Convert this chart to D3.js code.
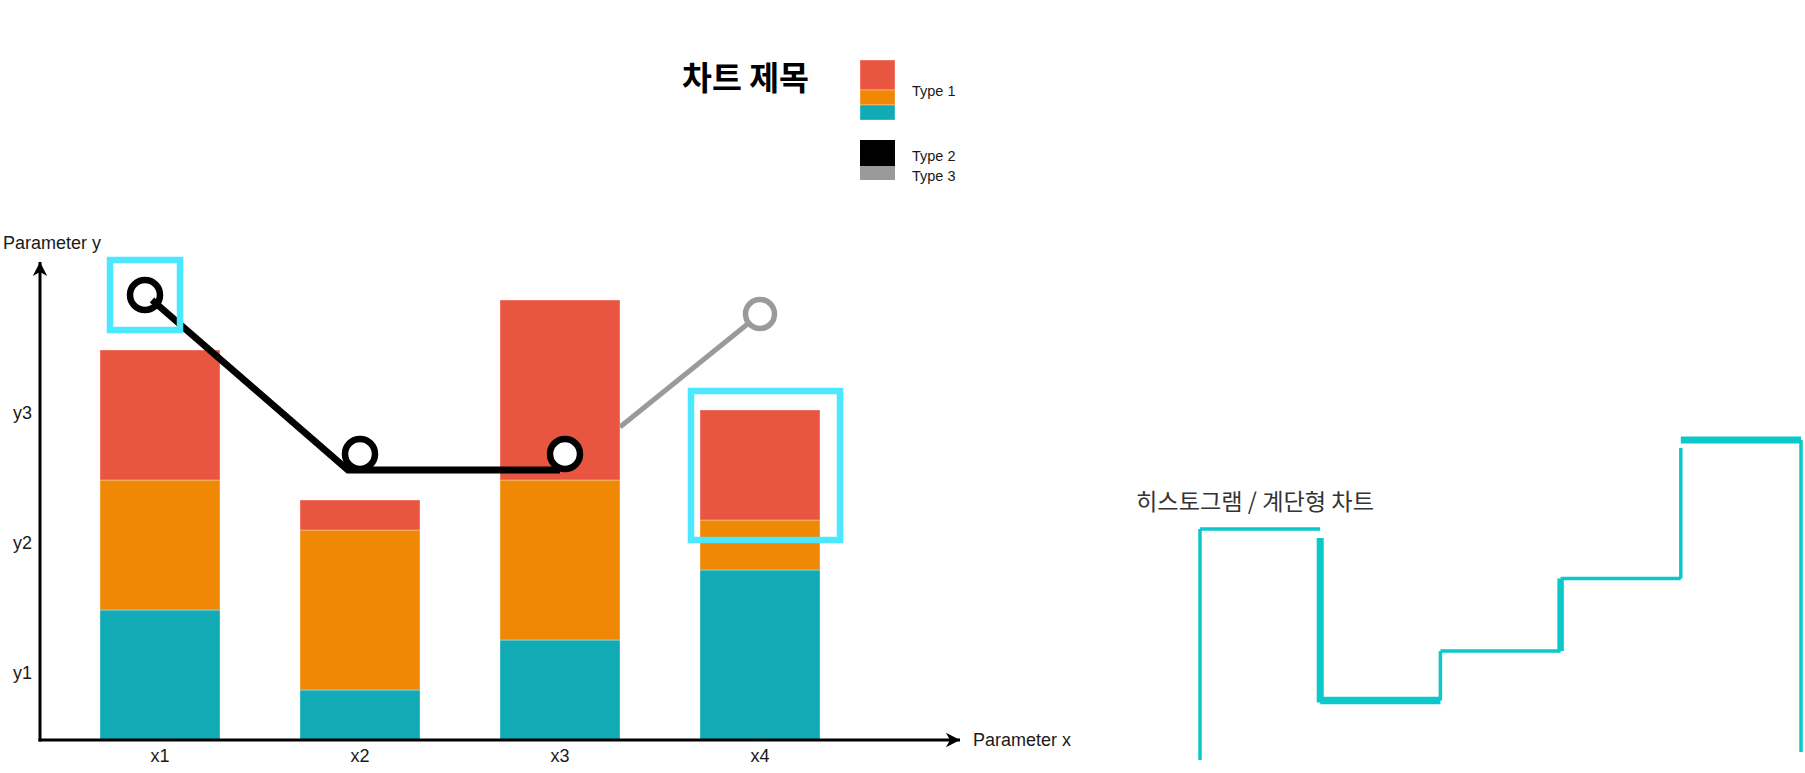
<!DOCTYPE html>
<html>
<head>
<meta charset="utf-8">
<script src="https://cdn.jsdelivr.net/npm/d3@7"></script>
<style>
  html, body { margin: 0; padding: 0; background: #ffffff; }
  svg { display: block; }
  .lat { font-family: "Liberation Sans", Arial, Helvetica, sans-serif; }
  .kor { font-family: "Noto Sans CJK KR", "Noto Sans", sans-serif; }
</style>
</head>
<body>
<svg id="chart" width="1805" height="773"></svg>
<script>
// ---------------- DATA ----------------
const categories = ["x1", "x2", "x3", "x4"];
const bottomValues = [26, 10, 20, 34];   // teal segment of Type 1
const middleValues = [26, 32, 32, 10];   // orange segment of Type 1
const topValues = [26, 6, 36, 22];       // red segment of Type 1
const yTickValues = [13.4, 39.4, 65.4];
const yTickLabels = ["y1", "y2", "y3"];
const type2Categories = ["x1", "x2", "x3"];
const type2Values = [89, 57.2, 57.2];
const type3Categories = ["x3", "x4"];
const type3Values = [62.6, 85.2];
const legendLabels = ["Type 1", "Type 2", "Type 3"];
const histBins = [0, 1, 2, 3, 4];
const histValues = [70, 18, 33, 55, 97];
const chartTitle = "차트 제목";
const histTitle = "히스토그램 / 계단형 차트";
const xAxisTitle = "Parameter x";
const yAxisTitle = "Parameter y";

// ---------------- STYLE ----------------
const C = {
  red: "#E85642", orange: "#F08705", teal: "#12AAB5",
  black: "#000000", gray: "#9A9A9A", cyan: "#4DE8FF", step: "#0BC9CB",
  text: "#1a1a1a"
};

const svg = d3.select("#chart");

// scales
const x = d3.scaleBand().domain(categories).range([60, 860]).paddingInner(0.4).paddingOuter(0.2);
const y = d3.scaleLinear().domain([0, 100]).range([740, 240]);

// defs: draw.io style classic arrows
const defs = svg.append("defs");
defs.append("marker")
  .attr("id", "arrow")
  .attr("viewBox", "0 0 16 16")
  .attr("refX", 14).attr("refY", 8)
  .attr("markerWidth", 16).attr("markerHeight", 16)
  .attr("markerUnits", "userSpaceOnUse")
  .attr("orient", "auto")
  .append("path")
  .attr("d", "M14,8 L0,0.8 L4,8 L0,15.2 Z")
  .attr("fill", "#000");

// ---------------- STACKED BARS ----------------
const table = categories.map((c, i) => ({ cat: c, a: bottomValues[i], b: middleValues[i], c: topValues[i] }));
const stack = d3.stack().keys(["a", "b", "c"]);
const layers = stack(table);
const layerColors = { a: C.teal, b: C.orange, c: C.red };

svg.append("g").selectAll("g")
  .data(layers).join("g")
  .attr("fill", d => layerColors[d.key])
  .selectAll("rect")
  .data(d => d).join("rect")
  .attr("x", d => x(d.data.cat))
  .attr("width", x.bandwidth())
  .attr("y", d => y(d[1]))
  .attr("height", d => y(d[0]) - y(d[1]))
  .attr("stroke", "rgba(255,255,255,0.35)")
  .attr("stroke-width", 1);

// ---------------- AXES ----------------
const yAxis = d3.axisLeft(y).tickValues(yTickValues)
  .tickFormat((d, i) => yTickLabels[i]).tickSize(0).tickPadding(8);
const gy = svg.append("g").attr("transform", `translate(${x.range()[0] - 20},0)`).call(yAxis);
gy.select(".domain").remove();
gy.selectAll("text").attr("class", "lat").attr("font-size", 18).attr("fill", C.text);

const xAxis = d3.axisBottom(x).tickSize(0).tickPadding(9);
const gx = svg.append("g").attr("transform", `translate(0,${y(0)})`).call(xAxis);
gx.select(".domain").remove();
gx.selectAll("text").attr("class", "lat").attr("font-size", 18).attr("fill", C.text);

const axisX0 = x.range()[0] - 20;
svg.append("line")
  .attr("x1", axisX0).attr("y1", y(0) + 1.5)
  .attr("x2", axisX0).attr("y2", y(95.6))
  .attr("stroke", "#000").attr("stroke-width", 3)
  .attr("marker-end", "url(#arrow)");
svg.append("line")
  .attr("x1", axisX0 - 1.5).attr("y1", y(0))
  .attr("x2", x.range()[1] + 100).attr("y2", y(0))
  .attr("stroke", "#000").attr("stroke-width", 3)
  .attr("marker-end", "url(#arrow)");

svg.append("text").attr("class", "lat")
  .attr("x", 3).attr("y", 243).attr("dy", "0.35em")
  .attr("font-size", 18).attr("fill", C.text).text(yAxisTitle);
svg.append("text").attr("class", "lat")
  .attr("x", x.range()[1] + 113).attr("y", y(0)).attr("dy", "0.35em")
  .attr("font-size", 18).attr("fill", C.text).text(xAxisTitle);

// ---------------- TYPE 3 (gray line) ----------------
const t3pts = type3Categories.map((c, i) => ({
  px: i === 0 ? x(c) + x.bandwidth() : x(c) + x.bandwidth() / 2,
  py: y(type3Values[i])
}));
svg.append("path")
  .attr("d", d3.line().x(d => d.px).y(d => d.py)(t3pts))
  .attr("fill", "none").attr("stroke", C.gray).attr("stroke-width", 5);
svg.append("circle")
  .attr("cx", t3pts[1].px).attr("cy", t3pts[1].py).attr("r", 14.5)
  .attr("fill", "#fff").attr("stroke", C.gray).attr("stroke-width", 5.5);

// ---------------- TYPE 2 (black line) ----------------
const circleDx = [-15, 0, 5];
const lineOffsets = [[7, 5], [-12, 16], [-5, 16]];
const t2pts = type2Categories.map((c, i) => ({
  cx: x(c) + x.bandwidth() / 2 + circleDx[i],
  cy: y(type2Values[i])
}));
svg.append("g").selectAll("circle")
  .data(t2pts).join("circle")
  .attr("cx", d => d.cx).attr("cy", d => d.cy).attr("r", 15)
  .attr("fill", "#fff").attr("stroke", C.black).attr("stroke-width", 6.5);
svg.append("path")
  .attr("d", d3.line().x((d, i) => d.cx + lineOffsets[i][0]).y((d, i) => d.cy + lineOffsets[i][1])(t2pts))
  .attr("fill", "none").attr("stroke", C.black).attr("stroke-width", 6.8)
  .attr("stroke-linejoin", "miter");

// ---------------- HIGHLIGHT BOXES ----------------
const box1 = { x: t2pts[0].cx - 35, y: t2pts[0].cy - 35, w: 70, h: 70 };
const l4 = layers[2][3];
const box2 = {
  x: x("x4") - 9, y: y(l4[1]) - 19,
  w: x.bandwidth() + 29, h: (y(l4[0]) - y(l4[1])) + 39
};
svg.append("g").selectAll("rect")
  .data([box1, box2]).join("rect")
  .attr("x", d => d.x).attr("y", d => d.y).attr("width", d => d.w).attr("height", d => d.h)
  .attr("fill", "none").attr("stroke", C.cyan).attr("stroke-width", 6.5);

// ---------------- TITLE ----------------
svg.append("text").attr("class", "kor")
  .attr("x", 745.5).attr("y", 75).attr("dominant-baseline", "central")
  .attr("text-anchor", "middle").attr("font-size", 32.5).attr("font-weight", "bold")
  .attr("fill", "#000").text(chartTitle);

// ---------------- LEGEND ----------------
const lg = svg.append("g").attr("transform", "translate(860,60)");
const sw = 35;
const legendType1 = [
  { color: C.red, h: 30 }, { color: C.orange, h: 15 }, { color: C.teal, h: 15 }
];
let acc = 0;
legendType1.forEach(s => {
  lg.append("rect").attr("x", 0).attr("y", acc).attr("width", sw).attr("height", s.h)
    .attr("fill", s.color).attr("stroke", "rgba(255,255,255,0.35)").attr("stroke-width", 1);
  acc += s.h;
});
lg.append("rect").attr("x", 0).attr("y", 80).attr("width", sw).attr("height", 26).attr("fill", C.black);
lg.append("rect").attr("x", 0).attr("y", 106).attr("width", sw).attr("height", 14).attr("fill", C.gray);
const legendY = [31, 96, 116];
lg.selectAll("text.lt").data(legendLabels).join("text")
  .attr("class", "lat lt")
  .attr("x", 52).attr("y", (d, i) => legendY[i]).attr("dy", "0.35em")
  .attr("font-size", 14.5).attr("fill", C.text).text(d => d);

// ---------------- HISTOGRAM / STEP CHART ----------------
const hx = d3.scaleLinear().domain([0, 5]).range([1200, 1801]);
const hy = d3.scaleLinear().domain([0, 100]).range([760, 430]);
const riserWidths = [3.5, 7, 3.5, 6.5, 3.5];
const topWidths = [3.5, 7.5, 3.5, 3.5, 7];
const riserGaps = [0, 9, 0, 0, 8];   // small gap left at the upper end of a riser
const hg = svg.append("g").attr("stroke", C.step).attr("fill", "none");
histBins.forEach((b, i) => {
  const prev = i === 0 ? 0 : histValues[i - 1];
  const vy = hy(histValues[i]);
  const py = hy(prev);
  const upper = Math.min(py, vy) + riserGaps[i];
  const lower = Math.max(py, vy) + (i === 1 ? 2 : 0);
  hg.append("line")
    .attr("x1", hx(b)).attr("x2", hx(b))
    .attr("y1", lower).attr("y2", upper)
    .attr("stroke-width", riserWidths[i]);
  hg.append("line")
    .attr("x1", hx(b)).attr("x2", hx(b + 1))
    .attr("y1", vy).attr("y2", vy)
    .attr("stroke-width", topWidths[i]);
});
hg.append("line")
  .attr("x1", hx(5)).attr("x2", hx(5))
  .attr("y1", hy(histValues[4])).attr("y2", hy(0) - 8)
  .attr("stroke-width", 3.5);

svg.append("text").attr("class", "kor")
  .attr("x", 1136).attr("y", 500).attr("dominant-baseline", "central")
  .attr("font-size", 23.2).attr("fill", "#333").text(histTitle);
</script>
</body>
</html>
